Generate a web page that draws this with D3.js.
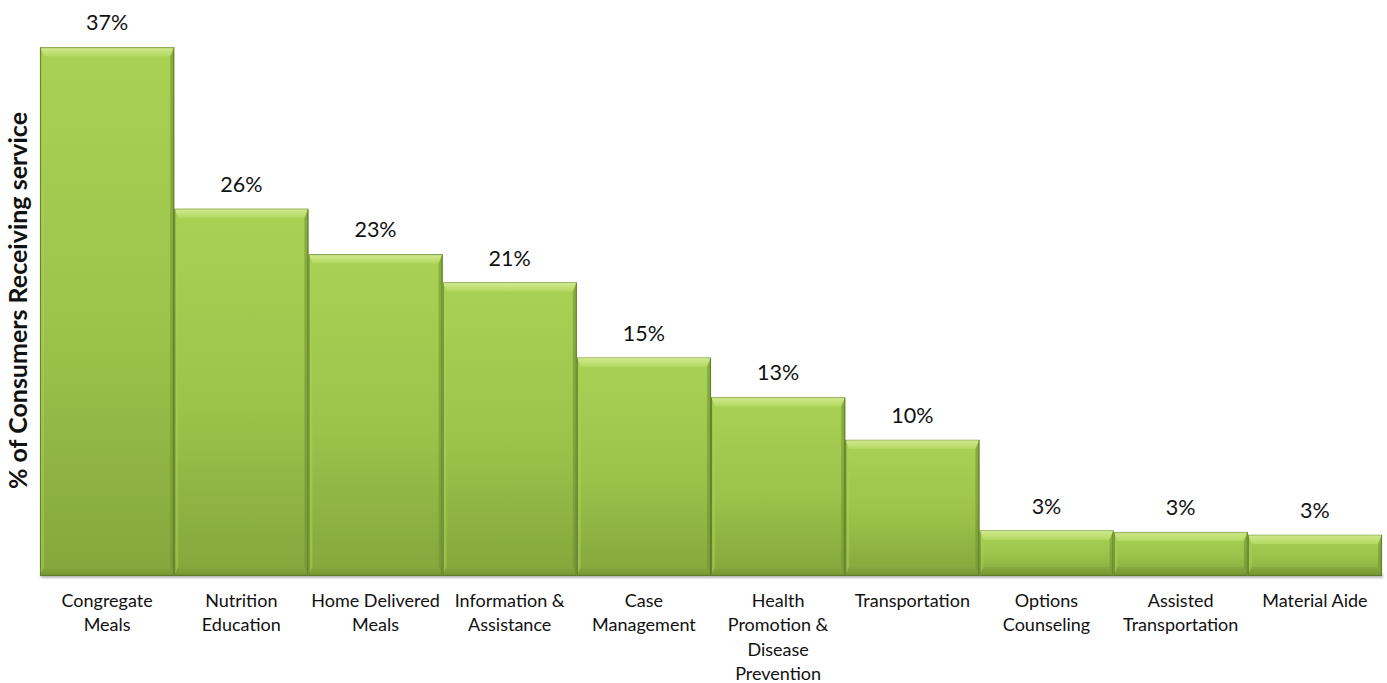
<!DOCTYPE html>
<html>
<head>
<meta charset="utf-8">
<script src="https://cdn.jsdelivr.net/npm/d3@7"></script>
<style>
  html, body { margin: 0; padding: 0; background: #ffffff; }
  svg { display: block; }
  text { font-family: Lato, "Open Sans", sans-serif; fill: #111; }
</style>
</head>
<body>
<svg id="chart" width="1387" height="683"></svg>
<script>
// Services and share of consumers receiving each (%)
const categories = [
  "Congregate Meals",
  "Nutrition Education",
  "Home Delivered Meals",
  "Information & Assistance",
  "Case Management",
  "Health Promotion & Disease Prevention",
  "Transportation",
  "Options Counseling",
  "Assisted Transportation",
  "Material Aide"
];
const values = [37.3, 25.9, 22.7, 20.7, 15.4, 12.6, 9.6, 3.2, 3.1, 2.9];
// Wrapped category labels, one entry per line
const tickLines = [
  ["Congregate", "Meals"],
  ["Nutrition", "Education"],
  ["Home Delivered", "Meals"],
  ["Information &", "Assistance"],
  ["Case", "Management"],
  ["Health", "Promotion &", "Disease", "Prevention"],
  ["Transportation"],
  ["Options", "Counseling"],
  ["Assisted", "Transportation"],
  ["Material Aide"]
];
const yTitle = "% of Consumers Receiving service";
const yDomain = [0, 40];

const data = categories.map((c, i) => ({ cat: c, value: values[i], lines: tickLines[i] }));

const svg = d3.select("#chart");
const plot = { left: 40, right: 1382, top: 9, bottom: 576 };

const x = d3.scaleBand().domain(categories).range([plot.left, plot.right]).padding(0);
const y = d3.scaleLinear().domain(yDomain).range([plot.bottom, plot.top]);

const defs = svg.append("defs");

// Face gradient, light at the top of each bar to darker olive at the base
const face = defs.append("linearGradient").attr("id", "face")
  .attr("x1", 0).attr("y1", 0).attr("x2", 0).attr("y2", 1);
face.append("stop").attr("offset", "0%").attr("stop-color", "#a9d254");
face.append("stop").attr("offset", "55%").attr("stop-color", "#9cc24b");
face.append("stop").attr("offset", "100%").attr("stop-color", "#85a63c");

const topBevel = defs.append("linearGradient").attr("id", "topBevel")
  .attr("x1", 0).attr("y1", 0).attr("x2", 0).attr("y2", 1);
topBevel.append("stop").attr("offset", "0%").attr("stop-color", "#d2ea8e");
topBevel.append("stop").attr("offset", "100%").attr("stop-color", "#b3d862");

const botBevel = defs.append("linearGradient").attr("id", "botBevel")
  .attr("x1", 0).attr("y1", 0).attr("x2", 0).attr("y2", 1);
botBevel.append("stop").attr("offset", "0%").attr("stop-color", "#87a83e");
botBevel.append("stop").attr("offset", "100%").attr("stop-color", "#6f8f2f");

// Soft shadow under the row of bars
const blur = defs.append("filter").attr("id", "shadow")
  .attr("x", "-5%").attr("y", "-5%").attr("width", "110%").attr("height", "130%");
blur.append("feGaussianBlur").attr("stdDeviation", 1.5);

svg.append("rect")
  .attr("x", plot.left + 1).attr("y", plot.bottom - 2)
  .attr("width", plot.right - plot.left).attr("height", 4)
  .attr("fill", "#9a9a9a").attr("opacity", 0.7)
  .attr("filter", "url(#shadow)");

const bev = 9;
const side = 4;

const bars = svg.append("g").selectAll("g.bar").data(data).join("g").attr("class", "bar");

bars.each(function (d) {
  const g = d3.select(this);
  const x0 = x(d.cat), x1 = x(d.cat) + x.bandwidth();
  const y0 = y(d.value), y1 = y(0);
  const b = Math.min(bev, (y1 - y0) / 3);

  g.append("rect")
    .attr("x", x0).attr("y", y0)
    .attr("width", x1 - x0).attr("height", y1 - y0)
    .attr("fill", "url(#face)");

  // top bevel
  g.append("path")
    .attr("d", `M${x0},${y0}L${x1},${y0}L${x1 - side},${y0 + b}L${x0 + side},${y0 + b}Z`)
    .attr("fill", "url(#topBevel)");
  // left bevel
  g.append("path")
    .attr("d", `M${x0},${y0}L${x0 + side},${y0 + b}L${x0 + side},${y1 - b}L${x0},${y1}Z`)
    .attr("fill", "#a7cf56").attr("opacity", 0.55);
  // right bevel
  g.append("path")
    .attr("d", `M${x1},${y0}L${x1 - side},${y0 + b}L${x1 - side},${y1 - b}L${x1},${y1}Z`)
    .attr("fill", "#6f8f2f").attr("opacity", 0.55);
  // bottom bevel
  g.append("path")
    .attr("d", `M${x0},${y1}L${x0 + side},${y1 - b}L${x1 - side},${y1 - b}L${x1},${y1}Z`)
    .attr("fill", "url(#botBevel)").attr("opacity", 0.8);

  // outline
  g.append("rect")
    .attr("x", x0 + 0.5).attr("y", y0 + 0.5)
    .attr("width", x1 - x0 - 1).attr("height", y1 - y0 - 1)
    .attr("fill", "none").attr("stroke", "#5d7a28").attr("stroke-width", 1.2)
    .attr("stroke-opacity", 0.85);
  g.append("line")
    .attr("x1", x0 + 1).attr("x2", x1 - 1).attr("y1", y0 + 1).attr("y2", y0 + 1)
    .attr("stroke", "#c9e58a").attr("stroke-width", 1.2);
});

// Value labels above the bars
const fmt = v => d3.format(".0f")(v) + "%";
svg.append("g").selectAll("text").data(data).join("text")
  .attr("x", d => x(d.cat) + x.bandwidth() / 2)
  .attr("y", d => y(d.value) - 17)
  .attr("text-anchor", "middle")
  .attr("font-size", 21.5)
  .text(d => fmt(d.value));

// Category axis with wrapped labels
const xAxis = svg.append("g")
  .attr("transform", `translate(0,${plot.bottom})`)
  .call(d3.axisBottom(x).tickSize(0).tickFormat(""));
xAxis.select(".domain").remove();
xAxis.selectAll(".tick").each(function (cat) {
  const d = data.find(e => e.cat === cat);
  const t = d3.select(this).append("text")
    .attr("text-anchor", "middle")
    .attr("font-size", 18)
    .attr("y", 31);
  d.lines.forEach((ln, i) => {
    t.append("tspan").attr("x", 0).attr("dy", i === 0 ? 0 : 24.3).text(ln);
  });
});

// Y axis title
svg.append("text")
  .attr("transform", `translate(27,${(plot.top + plot.bottom) / 2 + 8}) rotate(-90)`)
  .attr("text-anchor", "middle")
  .attr("font-size", 25)
  .attr("font-weight", "bold")
  .text(yTitle);
</script>
</body>
</html>
